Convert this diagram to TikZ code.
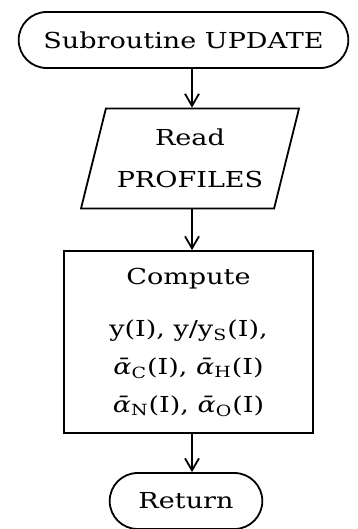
\documentclass[tikz,border=0pt]{standalone}
\usepackage{fontspec}
\setmainfont{DejaVu Serif}[FakeStretch=1.23]
\usetikzlibrary{shapes.misc,shapes.geometric,arrows.meta}

\newcommand{\abar}[1]{\textit{ᾱ}\textsubscript{#1}}

\begin{document}
\begin{tikzpicture}[x=0.5pt,y=-0.5pt,
  every node/.style = {draw, line width=0.9pt, align=center,
    font=\fontsize{11}{19}\selectfont},
  terminal/.style = {rounded rectangle, minimum height=28pt},
  inout/.style = {trapezium, trapezium left angle=71, trapezium right angle=109,
    trapezium stretches body, minimum height=50pt, minimum width=109pt},
  process/.style = {rectangle, minimum width=124.5pt, minimum height=91pt},
  flow/.style = {-{Straight Barb[length=6pt,width=7pt]}, line width=0.9pt}]
  \useasboundingbox (0,0) rectangle (358,529);
  \node[terminal, minimum width=171.5pt] (start) at (183.5,40) {Subroutine UPDATE};
  \node[inout] (read) at (190,158.5) {Read\\[2pt]PROFILES};
  \node[process] (compute) at (188.5,342)
    {Compute\\[7pt]
     y(I), y/y\textsubscript{S}(I),\\
     \abar{C}(I), \abar{H}(I)\\
     \abar{N}(I), \abar{O}(I)};
  \node[terminal, minimum width=83pt] (ret) at (186,501) {Return};
  \coordinate (col) at (192,0);
  \draw[flow] (start.south -| col) -- (read.north -| col);
  \draw[flow] (read.south -| col) -- (compute.north -| col);
  \draw[flow] (compute.south -| col) -- (ret.north -| col);
\end{tikzpicture}
\end{document}
